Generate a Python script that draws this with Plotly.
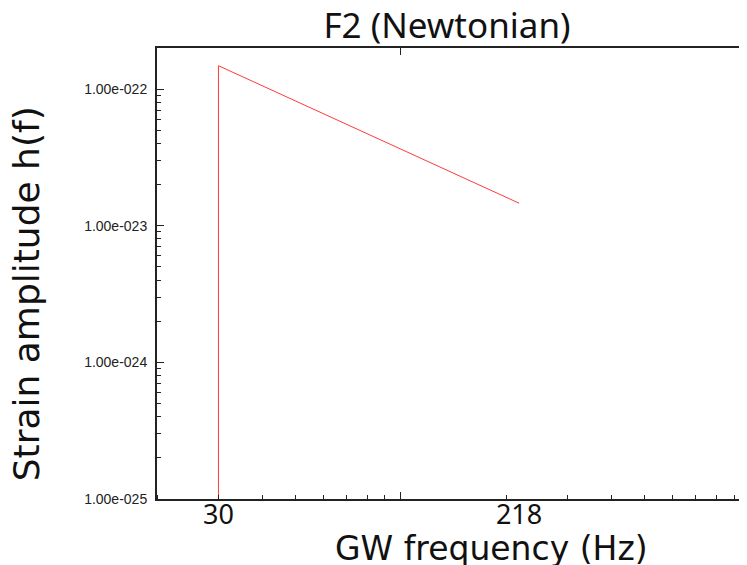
import plotly.graph_objects as go
import math

# Data
freq_hz = [30, 30, 218]
strain = [1e-26, 1.48e-22, 1.46e-23]

x_tick_vals = [30, 218]
x_tick_text = ["30", "218"]
y_tick_vals = [1e-25, 1e-24, 1e-23, 1e-22]
y_tick_text = ["1.00e-025", "1.00e-024", "1.00e-023", "1.00e-022"]

x_minor = [m * 10 ** d for d in (1, 2) for m in range(2, 10)]
y_minor = [m * 10 ** d for d in (-25, -24, -23, -22) for m in range(2, 10)]

fig = go.Figure()
fig.add_trace(go.Scatter(x=freq_hz, y=strain, mode="lines",
                         line=dict(color="#ff3a3a", width=1), showlegend=False,
                         hoverinfo="skip"))
# invisible trace to hold the decade-tick overlay axis
fig.add_trace(go.Scatter(x=[100], y=[1e-24], xaxis="x2", mode="markers",
                         marker=dict(opacity=0), showlegend=False, hoverinfo="skip"))

xr = [math.log10(20), 3]
fig.update_layout(
    width=747, height=565,
    margin=dict(l=149, r=3, t=40, b=74),
    paper_bgcolor="white", plot_bgcolor="white",
    title=dict(text="F2 (Newtonian)", x=0.489, xref="paper", xanchor="center",
               y=0.968, yref="container", yanchor="middle",
               font=dict(family="Noto Sans", size=35, color="#111")),
    xaxis=dict(type="log", range=xr, tickvals=x_tick_vals, ticktext=x_tick_text,
               ticks="", showgrid=False, zeroline=False, ticklabelstandoff=-9,
               showline=True, linecolor="#222", linewidth=2, mirror=True,
               tickfont=dict(family="Noto Sans", size=27, color="#111"),
               minor=dict(tickvals=x_minor, ticks="inside", ticklen=4,
                          tickcolor="#222", tickwidth=1, showgrid=False)),
    xaxis2=dict(type="log", range=xr, overlaying="x", anchor="y", side="bottom",
                tickvals=[100], showticklabels=False, ticks="inside", ticklen=7,
                tickcolor="#222", tickwidth=1, showgrid=False, zeroline=False,
                showline=False, mirror="ticks", linecolor="rgba(0,0,0,0)"),
    yaxis=dict(type="log", range=[-25, -21.70], tickvals=y_tick_vals, ticktext=y_tick_text,
               ticks="inside", ticklen=7, tickcolor="#222", tickwidth=1,
               showgrid=False, zeroline=False, showline=True, linecolor="#222",
               linewidth=2, ticklabelstandoff=5, mirror="ticks",
               tickfont=dict(family="Liberation Sans", size=14, color="#222"),
               minor=dict(tickvals=y_minor, ticks="inside", ticklen=4,
                          tickcolor="#222", tickwidth=1, showgrid=False)),
    annotations=[
        dict(text="GW frequency (Hz)", xref="paper", yref="paper", x=0.564, y=-0.110,
             xanchor="center", yanchor="middle", showarrow=False,
             font=dict(family="DejaVu Sans", size=33, color="#111")),
        dict(text="Strain amplitude h(f)", xref="paper", yref="paper", x=-0.220, y=0.455,
             xanchor="center", yanchor="middle", showarrow=False, textangle=-90,
             font=dict(family="DejaVu Sans", size=36, color="#111")),
    ],
)
fig.write_html("out.html")
